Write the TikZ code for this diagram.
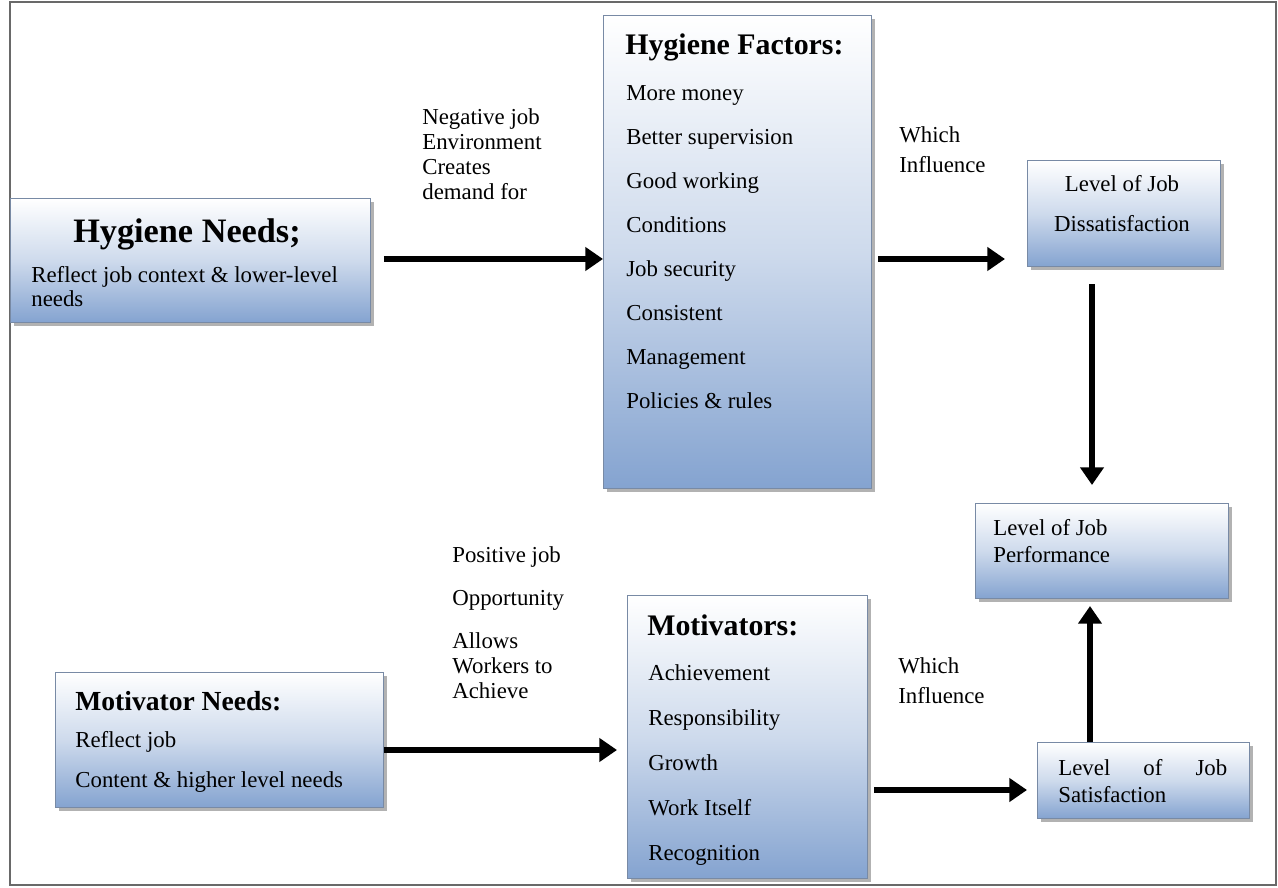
\documentclass[tikz,border=0pt]{standalone}
\usepackage{fontspec}
\setmainfont{Liberation Serif}
\usepackage{tikz}
\usetikzlibrary{arrows.meta, positioning, shadows}
\definecolor{boxblue}{RGB}{132,163,208}
\definecolor{boxedge}{RGB}{120,138,165}
\definecolor{framegray}{RGB}{105,105,105}

\begin{document}
\begin{tikzpicture}[
  x=0.02cm, y=-0.02cm,
  box/.style={
    draw=boxedge, line width=0.6pt, anchor=north west, inner sep=0pt,
    top color=white, bottom color=boxblue, middle color=boxblue!40!white,
    drop shadow={shadow xshift=2pt, shadow yshift=-2pt, fill=black!60}
  },
  txt/.style={font=\fontsize{13}{14}\selectfont, inner sep=0pt, anchor=base west},
  head/.style={font=\bfseries\fontsize{17}{20}\selectfont, inner sep=0pt, anchor=base west},
  arrow/.style={-{Triangle[length=10pt, width=13pt]}, line width=3.2pt}
]
  \useasboundingbox (0,0) rectangle (1278,888);

  % Rahmen
  \draw[framegray, line width=0.8pt] (10,2) rectangle (1276,885);

  % Kaesten
  \node[box, minimum width=7.2cm, minimum height=2.48cm] (hn) at (10,198) {};
  \node[box, minimum width=5.36cm, minimum height=9.46cm] (hf) at (603,15) {};
  \node[box, minimum width=3.86cm, minimum height=2.12cm] (dis) at (1027,160) {};
  \node[box, minimum width=5.06cm, minimum height=1.9cm] (perf) at (975,503) {};
  \node[box, minimum width=6.56cm, minimum height=2.7cm] (mn) at (55,672) {};
  \node[box, minimum width=4.8cm, minimum height=5.66cm] (mot) at (627,595) {};
  \node[box, minimum width=4.24cm, minimum height=1.52cm] (sat) at (1037,742) {};

  % Texte in den Kaesten
  \node[head, font=\bfseries\fontsize{19.5}{22}\selectfont, anchor=base] (hntitle) at (187,243) {Hygiene Needs;};
  \node[txt] (hnl1) at (31,283) {Reflect job context \& lower-level};
  \node[txt] (hnl2) at (31,307) {needs};

  \node[head] (hftitle) at (625,55) {Hygiene Factors:};
  \foreach \t [count=\i from 0] in {More money, Better supervision, Good working, Conditions, Job security, Consistent, Management, Policies \& rules}
    \node[txt] (hf\i) at (626,{101+44*\i}) {\t};

  \node[txt, anchor=base] (dis1) at (1122,192) {Level of Job};
  \node[txt, anchor=base] (dis2) at (1122,232) {Dissatisfaction};

  \node[txt] (perf1) at (993,535) {Level of Job};
  \node[txt] (perf2) at (993,562) {Performance};

  \node[head, font=\bfseries\fontsize{15.7}{18}\selectfont] (mntitle) at (75,710) {Motivator Needs:};
  \node[txt] (mn1) at (75,747) {Reflect job};
  \node[txt] (mn2) at (75,787) {Content \& higher level needs};

  \node[head] (mottitle) at (647,635) {Motivators:};
  \foreach \t [count=\i from 0] in {Achievement, Responsibility, Growth, Work Itself, Recognition}
    \node[txt] (mot\i) at (648,{680+45*\i}) {\t};

  \node[txt] (sat1) at (1058,775) {\makebox[3.38cm][s]{Level of Job}};
  \node[txt] (sat2) at (1058,802) {Satisfaction};

  % Beschriftungen an den Pfeilen
  \foreach \t [count=\i from 0] in {Negative job, Environment, Creates, demand for}
    \node[txt] (neg\i) at (422,{125+25*\i}) {\t};
  \node[txt] (pos0) at (452,562) {Positive job};
  \node[txt] (pos1) at (452,605) {Opportunity};
  \foreach \t [count=\i from 2] in {Allows, Workers to, Achieve}
    \node[txt] (pos\i) at (452,{598+25*\i}) {\t};
  \node[txt] (infa1) at (899,143) {Which};
  \node[txt] (infa2) at (899,173) {Influence};
  \node[txt] (infb1) at (898,673) {Which};
  \node[txt] (infb2) at (898,703) {Influence};

  % Pfeile
  \coordinate (hy) at (0,259);
  \coordinate (my) at (0,750);
  \coordinate (sy) at (0,790);
  \coordinate (vx) at (1092,0);
  \coordinate (vxb) at (1090,0);
  \draw[arrow, shorten <=0.26cm] (hn.east |- hy) -- (hf.west |- hy);
  \draw[arrow, shorten <=0.12cm, shorten >=0.44cm] (hf.east |- hy) -- (dis.west |- hy);
  \draw[arrow, shorten <=0.34cm, shorten >=0.36cm] (dis.south -| vx) -- (perf.north -| vx);
  \draw[arrow, shorten >=0.14cm] (sat.north -| vxb) -- (perf.south -| vxb);
  \draw[arrow, shorten >=0.2cm] (mn.east |- my) -- (mot.west |- my);
  \draw[arrow, shorten <=0.12cm, shorten >=0.2cm] (mot.east |- sy) -- (sat.west |- sy);

\end{tikzpicture}
\end{document}
